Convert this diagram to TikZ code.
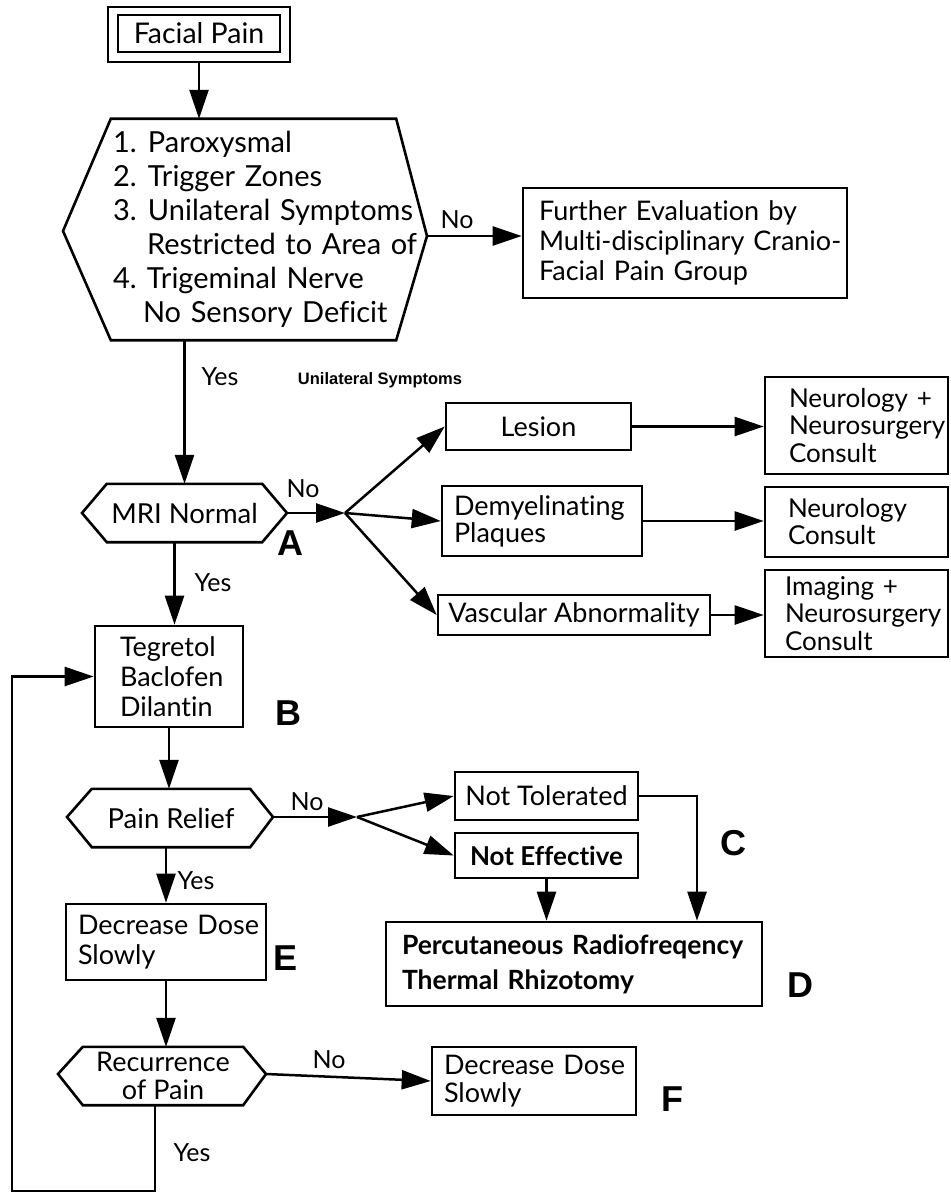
\documentclass[tikz,border=0pt]{standalone}
\usepackage{fontspec}
\setmainfont{Lato}[Ligatures=NoCommon]
\newfontfamily\labfont{Liberation Sans}
\usetikzlibrary{arrows.meta}
\begin{document}
\begin{tikzpicture}[x=1pt,y=-1pt,line join=miter,
  lw/.style={line width=2.6pt},
  bx/.style={draw, lw, inner sep=0pt, font=\fontsize{27}{30}\selectfont},
  hx/.style={inner sep=0pt, font=\fontsize{27.5}{28}\selectfont},
  arr/.style={line width=2.5pt, -{Triangle[length=29pt,width=19pt]}},
  lbl/.style={inner sep=0pt, font=\fontsize{25}{28}\selectfont},
  tag/.style={inner sep=0pt, font=\labfont\bfseries\fontsize{36}{36}\selectfont},
]
\useasboundingbox (0,0) rectangle (950,1193);

% --- nodes ---
\node[bx, minimum width=182pt, minimum height=55pt] (fpo) at (199,34.5) {};
\node[bx, minimum width=162pt, minimum height=37pt, font=\fontsize{28.5}{30}\selectfont] (fp) at (199,33.5) {Facial Pain};

\node[hx, minimum width=285pt, minimum height=221pt, text width=281pt, align=left,
      font=\fontsize{29}{34}\selectfont] (hexA) at (253.5,229.5)
 {\makebox[35pt][l]{1.}Paroxysmal\\
  \makebox[35pt][l]{2.}Trigger Zones\\
  \makebox[35pt][l]{3.}\mbox{Unilateral Symptoms}\\
  \hspace*{34pt}\mbox{Restricted to Area of}\\
  \makebox[34pt][l]{4.}Trigeminal Nerve\\
  \hspace*{30pt}\mbox{No Sensory Deficit}};
\coordinate (hxAr) at (427,236);
\coordinate (hxAl) at (63,231);

\node[bx, minimum width=324pt, minimum height=110pt, text width=292pt, align=left] (fe) at (685,243)
 {\mbox{Further Evaluation by}\\\mbox{Multi-disciplinary Cranio-}\\\mbox{Facial Pain Group}};

\node[hx, minimum width=155pt, minimum height=58pt] (mri) at (184.5,513) {MRI Normal};
\coordinate (mriR) at (287,513);
\coordinate (mriL) at (82,513);
\coordinate (jA) at (345,513);

\node[bx, minimum width=185pt, minimum height=47pt] (les) at (538.5,426.5) {Lesion};
\node[bx, minimum width=183pt, minimum height=97pt, text width=135pt, align=left,
      font=\fontsize{26}{27.5}\selectfont] (nn) at (856.5,425.5) {\mbox{Neurology +}\\\mbox{Neurosurgery}\\Consult};
\node[bx, minimum width=200pt, minimum height=70pt, text width=176pt, align=left,
      font=\fontsize{27}{27}\selectfont] (dem) at (542,521) {\mbox{Demyelinating}\\Plaques};
\node[bx, minimum width=183pt, minimum height=70pt, text width=137pt, align=left,
      font=\fontsize{26}{27}\selectfont] (nc) at (856.5,522) {Neurology\\Consult};
\node[bx, minimum width=272pt, minimum height=40pt] (vas) at (574,615) {Vascular Abnormality};
\node[bx, minimum width=183pt, minimum height=87pt, text width=143pt, align=left,
      font=\fontsize{26}{27.5}\selectfont] (img) at (856.5,613.5) {\mbox{Imaging +}\\\mbox{Neurosurgery}\\Consult};

\node[bx, minimum width=148pt, minimum height=101pt, text width=98pt, align=left] (teg) at (169,676.5)
 {Tegretol\\Baclofen\\Dilantin};

\node[hx, minimum width=158pt, minimum height=58pt] (pr) at (171,818) {Pain Relief};
\coordinate (prR) at (273,817);
\coordinate (prL) at (67,817);
\coordinate (jC) at (357,817);

\node[bx, minimum width=183pt, minimum height=48pt] (nt) at (546.5,796) {Not Tolerated};
\node[bx, minimum width=183pt, minimum height=45pt, font=\bfseries\fontsize{26}{30}\selectfont] (ne) at (546.5,855.5) {Not Effective};
\node[bx, minimum width=376pt, minimum height=84pt, text width=344pt, align=left,
      font=\bfseries\fontsize{26.5}{35}\selectfont] (pct) at (574,964)
 {\mbox{Percutaneous Radiofreqency}\\\mbox{Thermal Rhizotomy}};

\node[bx, minimum width=200pt, minimum height=76pt, text width=176pt, align=left] (dd1) at (166,942)
 {\mbox{Decrease Dose}\\Slowly};

\node[hx, minimum width=160pt, minimum height=58pt, align=center,
      font=\fontsize{27}{28}\selectfont] (rec) at (163,1076) {Recurrence\\of Pain};
\coordinate (recR) at (266,1074);
\coordinate (recL) at (58,1074);

\node[bx, minimum width=204pt, minimum height=68pt, text width=180pt, align=left,
      font=\fontsize{27}{28}\selectfont] (dd2) at (534,1081) {\mbox{Decrease Dose}\\Slowly};

\coordinate (loopc) at (12,1191);

% --- hexagon outlines ---
\draw[lw] (hexA.north west) -- (hexA.north east) -- (hxAr) -- (hexA.south east) -- (hexA.south west) -- (hxAl) -- cycle;
\draw[lw] (mri.north west) -- (mri.north east) -- (mriR) -- (mri.south east) -- (mri.south west) -- (mriL) -- cycle;
\draw[lw] (pr.north west) -- (pr.north east) -- (prR) -- (pr.south east) -- (pr.south west) -- (prL) -- cycle;
\draw[lw] (rec.north west) -- (rec.north east) -- (recR) -- (rec.south east) -- (rec.south west) -- (recL) -- cycle;

% --- labels ---
\node[lbl] (noA) at (457,220) {No};
\node[lbl] (yesA) at (220,377) {Yes};
\node[inner sep=0pt, font=\labfont\bfseries\fontsize{16.5}{18}\selectfont] (uni) at (380,380) {Unilateral Symptoms};
\node[lbl] (noB) at (303,489) {No};
\node[tag] (tA) at (290,543) {A};
\node[lbl] (yesB) at (213,583) {Yes};
\node[tag] (tB) at (288,713) {B};
\node[lbl] (noC) at (307,802) {No};
\node[tag] (tC) at (733,843) {C};
\node[lbl] (yesC) at (196,881) {Yes};
\node[tag] (tE) at (286,958) {E};
\node[tag] (tD) at (800,985) {D};
\node[lbl] (noD) at (329,1060) {No};
\node[tag] (tF) at (672,1099) {F};
\node[lbl] (yesD) at (192,1153) {Yes};

% --- connectors ---
\draw[arr] (fpo.south) -- (fpo.south |- hexA.north);
\draw[arr] (hxAr) -- (hxAr -| fe.west);
\draw[arr] (hexA.south -| mri.north) -- (mri.north);
\draw[arr] (mriR) -- (jA);
\draw[arr] (jA) -- (les.west);
\draw[arr] (jA) -- (dem.west);
\draw[arr] (jA) -- (vas.west);
\draw[arr] (les.east) -- (les.east -| nn.west);
\draw[arr] (dem.east) -- (dem.east -| nc.west);
\draw[arr] (vas.east) -- (vas.east -| img.west);
\draw[arr] ([xshift=-10pt]mri.south) -- ([xshift=-10pt]mri.south |- teg.north);
\draw[arr] (teg.south) -- (teg.south |- pr.north);
\draw[arr] (prR) -- (jC);
\draw[arr] (jC) -- (nt.west);
\draw[arr] (jC) -- (ne.west);
\draw[arr] (nt.east) -| ([xshift=123pt]pct.north);
\draw[arr] (ne.south) -- (ne.south |- pct.north);
\draw[arr] (pr.south -| dd1.north) -- (dd1.north);
\draw[arr] (dd1.south) -- (dd1.south |- rec.north);
\draw[arr] (recR) -- (dd2.west);
\draw[arr] ([xshift=-8pt]rec.south) |- (loopc) |- (teg.west);
\end{tikzpicture}
\end{document}
